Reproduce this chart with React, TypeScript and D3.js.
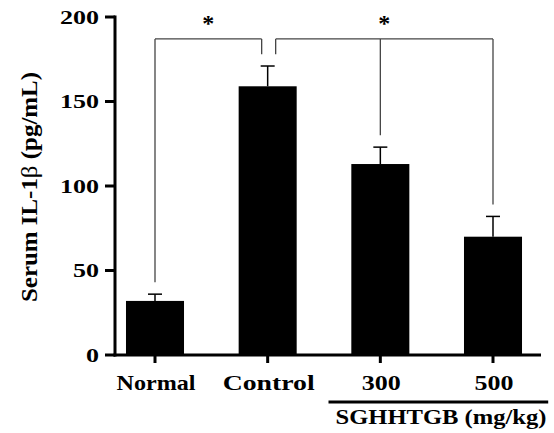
import React from 'react'
import { scaleLinear, scalePoint } from 'd3'

// data
const categories = ['Normal', 'Control', '300', '500']
const means = [32, 159, 113, 70]
const errors = [4, 12, 10, 12]
const yTicks = [0, 50, 100, 150, 200]
const groupLabel = 'SGHHTGB (mg/kg)'

// significance brackets: which bars, small x nudges of the legs, bracket level
const brackets = [
  { legs: ['Normal', 'Control'], nudge: [0, -6], level: 187, mark: '*' },
  { legs: ['Control', '300', '500'], nudge: [8, 0, 0], level: 187, mark: '*' },
]

const W = 554
const H = 433
const font = "'Liberation Serif', 'Times New Roman', Times, serif"

export default function App() {
  const y = scaleLinear().domain([0, 200]).range([355, 17])
  const x = scalePoint().domain(categories).range([155, 493])
  const barW = x.step() * 0.515
  const capW = 7
  const gap = 7
  const axisX = 115

  const topOf = (c) => {
    const i = categories.indexOf(c)
    return means[i] + errors[i] + gap
  }

  return (
    <svg
      width={W}
      height={H}
      style={{ position: 'absolute', left: 0, top: 0, background: '#fff', fontFamily: font, fontWeight: 'bold' }}
    >
      {/* bars */}
      {categories.map((c, i) => (
        <rect
          key={c}
          x={x(c) - barW / 2}
          y={y(means[i])}
          width={barW}
          height={y(0) - y(means[i])}
          fill="#000"
        />
      ))}
      {/* error bars */}
      {categories.map((c, i) => (
        <g key={'e' + c} stroke="#000" strokeWidth={1.5}>
          <line x1={x(c)} x2={x(c)} y1={y(means[i])} y2={y(means[i] + errors[i])} />
          <line
            x1={x(c) - capW}
            x2={x(c) + capW}
            y1={y(means[i] + errors[i])}
            y2={y(means[i] + errors[i])}
          />
        </g>
      ))}

      {/* brackets */}
      {brackets.map((b, k) => {
        const xs = b.legs.map((c, j) => x(c) + b.nudge[j])
        const x0 = Math.min(...xs)
        const x1 = Math.max(...xs)
        return (
          <g key={'b' + k}>
            <g stroke="#444" strokeWidth={1.3} fill="none">
              <line x1={x0} x2={x1} y1={y(b.level)} y2={y(b.level)} />
              {b.legs.map((c, j) => (
                <line
                  key={c}
                  x1={xs[j]}
                  x2={xs[j]}
                  y1={y(b.level)}
                  y2={y(topOf(c))}
                />
              ))}
            </g>
            <text x={(x0 + x1) / 2} y={31} textAnchor="middle" fontSize={24} fill="#000">
              {b.mark}
            </text>
          </g>
        )
      })}

      {/* y axis */}
      <line x1={axisX} x2={axisX} y1={y(200) - 1.5} y2={y(0) + 1.5} stroke="#000" strokeWidth={3} />
      {yTicks.map((t) => (
        <g key={'t' + t}>
          <line x1={axisX - 10} x2={axisX} y1={y(t)} y2={y(t)} stroke="#000" strokeWidth={3} />
          <text
            x={99}
            y={y(t) + 6.5}
            textAnchor="end"
            fontSize={19}
            textLength={String(t).length * 13}
            lengthAdjust="spacingAndGlyphs"
            fill="#000"
          >
            {t}
          </text>
        </g>
      ))}
      <text
        transform={`translate(37,187) rotate(-90)`}
        textAnchor="middle"
        fontSize={24}
        textLength={230}
        lengthAdjust="spacingAndGlyphs"
        fill="#000"
      >
        Serum IL-1<tspan fontWeight="normal">β</tspan> (pg/mL)
      </text>

      {/* x axis */}
      <line x1={axisX - 1.5} x2={541} y1={y(0)} y2={y(0)} stroke="#000" strokeWidth={3} />
      {categories.map((c) => (
        <g key={'x' + c}>
          <line x1={x(c)} x2={x(c)} y1={y(0)} y2={y(0) + 8} stroke="#000" strokeWidth={3} />
          <text
            x={x(c) + 1}
            y={390}
            textAnchor="middle"
            fontSize={22}
            textLength={c.length * 13 + (c.length > 3 ? 1 : 0)}
            lengthAdjust="spacingAndGlyphs"
            fill="#000"
          >
            {c}
          </text>
        </g>
      ))}

      {/* dose group line */}
      <line
        x1={x('300') - x.step() * 0.46}
        x2={x('500') + x.step() * 0.49}
        y1={402}
        y2={402}
        stroke="#000"
        strokeWidth={3}
      />
      <text
        x={441}
        y={424}
        textAnchor="middle"
        fontSize={22}
        textLength={211}
        lengthAdjust="spacingAndGlyphs"
        fill="#000"
      >
        {groupLabel}
      </text>
    </svg>
  )
}
